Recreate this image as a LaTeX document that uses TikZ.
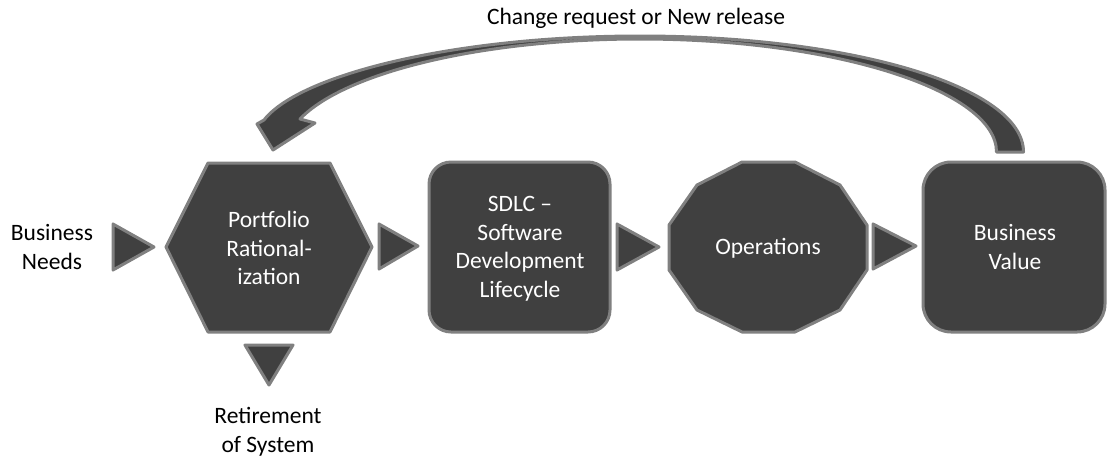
\documentclass[tikz,border=0pt]{standalone}
\usepackage{fontspec}
\setmainfont{Carlito}
\definecolor{shapefill}{HTML}{404040}
\definecolor{shapeline}{HTML}{808080}
\begin{document}
\begin{tikzpicture}[x=1pt,y=-1pt,
  shp/.style={fill=shapefill,draw=shapeline,line width=3pt,line join=round},
  intext/.style={text=white,align=center,font=\fontsize{23.5}{28.5}\selectfont,inner sep=0pt},
  outtext/.style={text=black,align=center,font=\fontsize{23.5}{28.5}\selectfont,inner sep=0pt}]
\useasboundingbox (0,0) rectangle (1107,459);
% curved return arrow
\draw[shp] (1023.5,152) .. controls (1023.5,87) and (852,36) .. (640,36)
  .. controls (457,36) and (300,74) .. (264,120) -- (257,124) -- (273,150)
  -- (315,123) -- (300,119)
  .. controls (345,72) and (483,39) .. (640,39)
  .. controls (836,39) and (996.5,91) .. (996.5,152) -- cycle;
% hexagon
\draw[shp] (208,163) -- (330,163) -- (372,247) -- (330,332) -- (208,332) -- (166,247) -- cycle;
% SDLC box
\draw[shp,rounded corners=22pt] (429,162) rectangle (610,332);
% Operations polygon
\draw[shp] (742,162) -- (795,162) -- (840,185) -- (867,225) -- (867,270) -- (840,310)
  -- (795,332) -- (742,332) -- (697,310) -- (669,270) -- (669,225) -- (697,185) -- cycle;
% Business Value box
\draw[shp,rounded corners=28pt] (923,162) rectangle (1105,332);
% triangles
\draw[shp] (113,224) -- (154,247) -- (113,270) -- cycle;
\draw[shp] (379,224) -- (418,246) -- (379,269) -- cycle;
\draw[shp] (617,224) -- (659,247) -- (617,270) -- cycle;
\draw[shp] (873,224) -- (916,246) -- (873,269) -- cycle;
\draw[shp] (245,345) -- (293,345) -- (269,385) -- cycle;
% texts
\node[intext] (pr) at (269,248) {Portfolio\\Rational-\\ization};
\node[intext] (sdlc) at (520,249) {SDLC --\\Software\\Development\\Lifecycle};
\node[intext] (ops) at (768,248) {Operations};
\node[intext] (bv) at (1015,247) {Business\\Value};
\node[outtext] (bn) at (52,247) {Business\\Needs};
\node[outtext] (ret) at (268,432) {Retirement\\of System};
\node[outtext] (cr) at (636,18) {Change request or New release};
\end{tikzpicture}
\end{document}
